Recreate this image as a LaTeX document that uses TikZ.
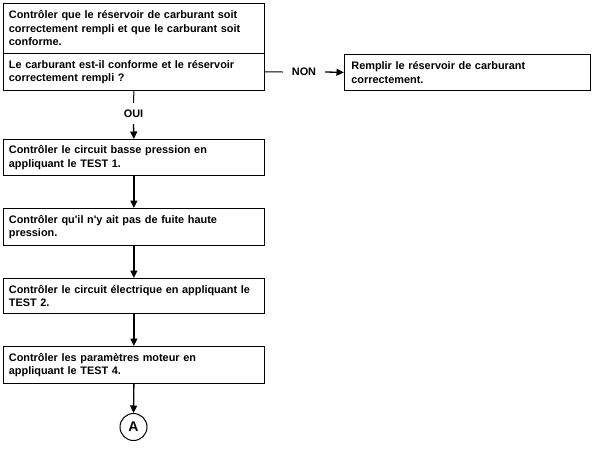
\documentclass[tikz,border=0pt]{standalone}
\usepackage{fontspec}
\setmainfont{Liberation Sans}
\usetikzlibrary{arrows.meta}
\begin{document}
\begin{tikzpicture}[x=1pt,y=1pt,
  every node/.style={font=\bfseries\fontsize{10.9}{13.5}\selectfont},
  box/.style={draw, line width=0.8pt, rectangle, anchor=north west, align=left, inner xsep=5.5pt, inner ysep=0pt, text width=250pt},
  rbox/.style={draw, line width=0.8pt, rectangle, anchor=north west, align=left, inner xsep=7pt, inner ysep=0pt, text width=232pt, minimum height=36pt},
  lbl/.style={inner sep=0pt},
  conn/.style={line width=1pt},
  arr/.style={line width=1.3pt, -{Triangle[length=7.5pt,width=7pt]}}]
\useasboundingbox (0,0) rectangle (593,-450);
\node[box, minimum height=50pt] (b1) at (3,-3) {Contrôler que le réservoir de carburant soit\\correctement rempli et que le carburant soit\\conforme.};
\node[box, minimum height=37pt] (b2) at (3,-53) {Le carburant est-il conforme et le réservoir\\correctement rempli ?};
\node[lbl, minimum height=21pt] (oui) at (133.5,-113.5) {OUI};
\node[box, minimum height=36pt] (b3) at (3,-139) {Contrôler le circuit basse pression en\\appliquant le TEST 1.};
\node[box, minimum height=37pt] (b4) at (3,-208) {Contrôler qu\textquotesingle il n\textquotesingle y ait pas de fuite haute\\pression.};
\node[box, minimum height=35pt] (b5) at (3,-278) {Contrôler le circuit électrique en appliquant le\\TEST 2.};
\node[box, minimum height=37pt] (b6) at (3,-346) {Contrôler les paramètres moteur en\\appliquant le TEST 4.};
\node[draw, circle, line width=1pt, minimum size=27pt, inner sep=0pt, font=\bfseries\fontsize{14}{16}\selectfont] (a) at (133.5,-427) {A};
\node[lbl, minimum width=42pt, minimum height=10pt] (non) at (304,-72) {NON};
\node[rbox] (b7) at (344,-54) {Remplir le réservoir de carburant\\correctement.};
\draw[conn] (b2.south) -- (oui.north);
\draw[arr] (oui.south) -- (b3.north);
\draw[arr] (b3.south) -- (b4.north);
\draw[arr] (b4.south) -- (b5.north);
\draw[arr] (b5.south) -- (b6.north);
\draw[arr] (b6.south) -- (a.north);
\draw[conn] (b2.east) -- (non.west);
\draw[arr] (non.east) -- (b7.west);
\end{tikzpicture}
\end{document}
